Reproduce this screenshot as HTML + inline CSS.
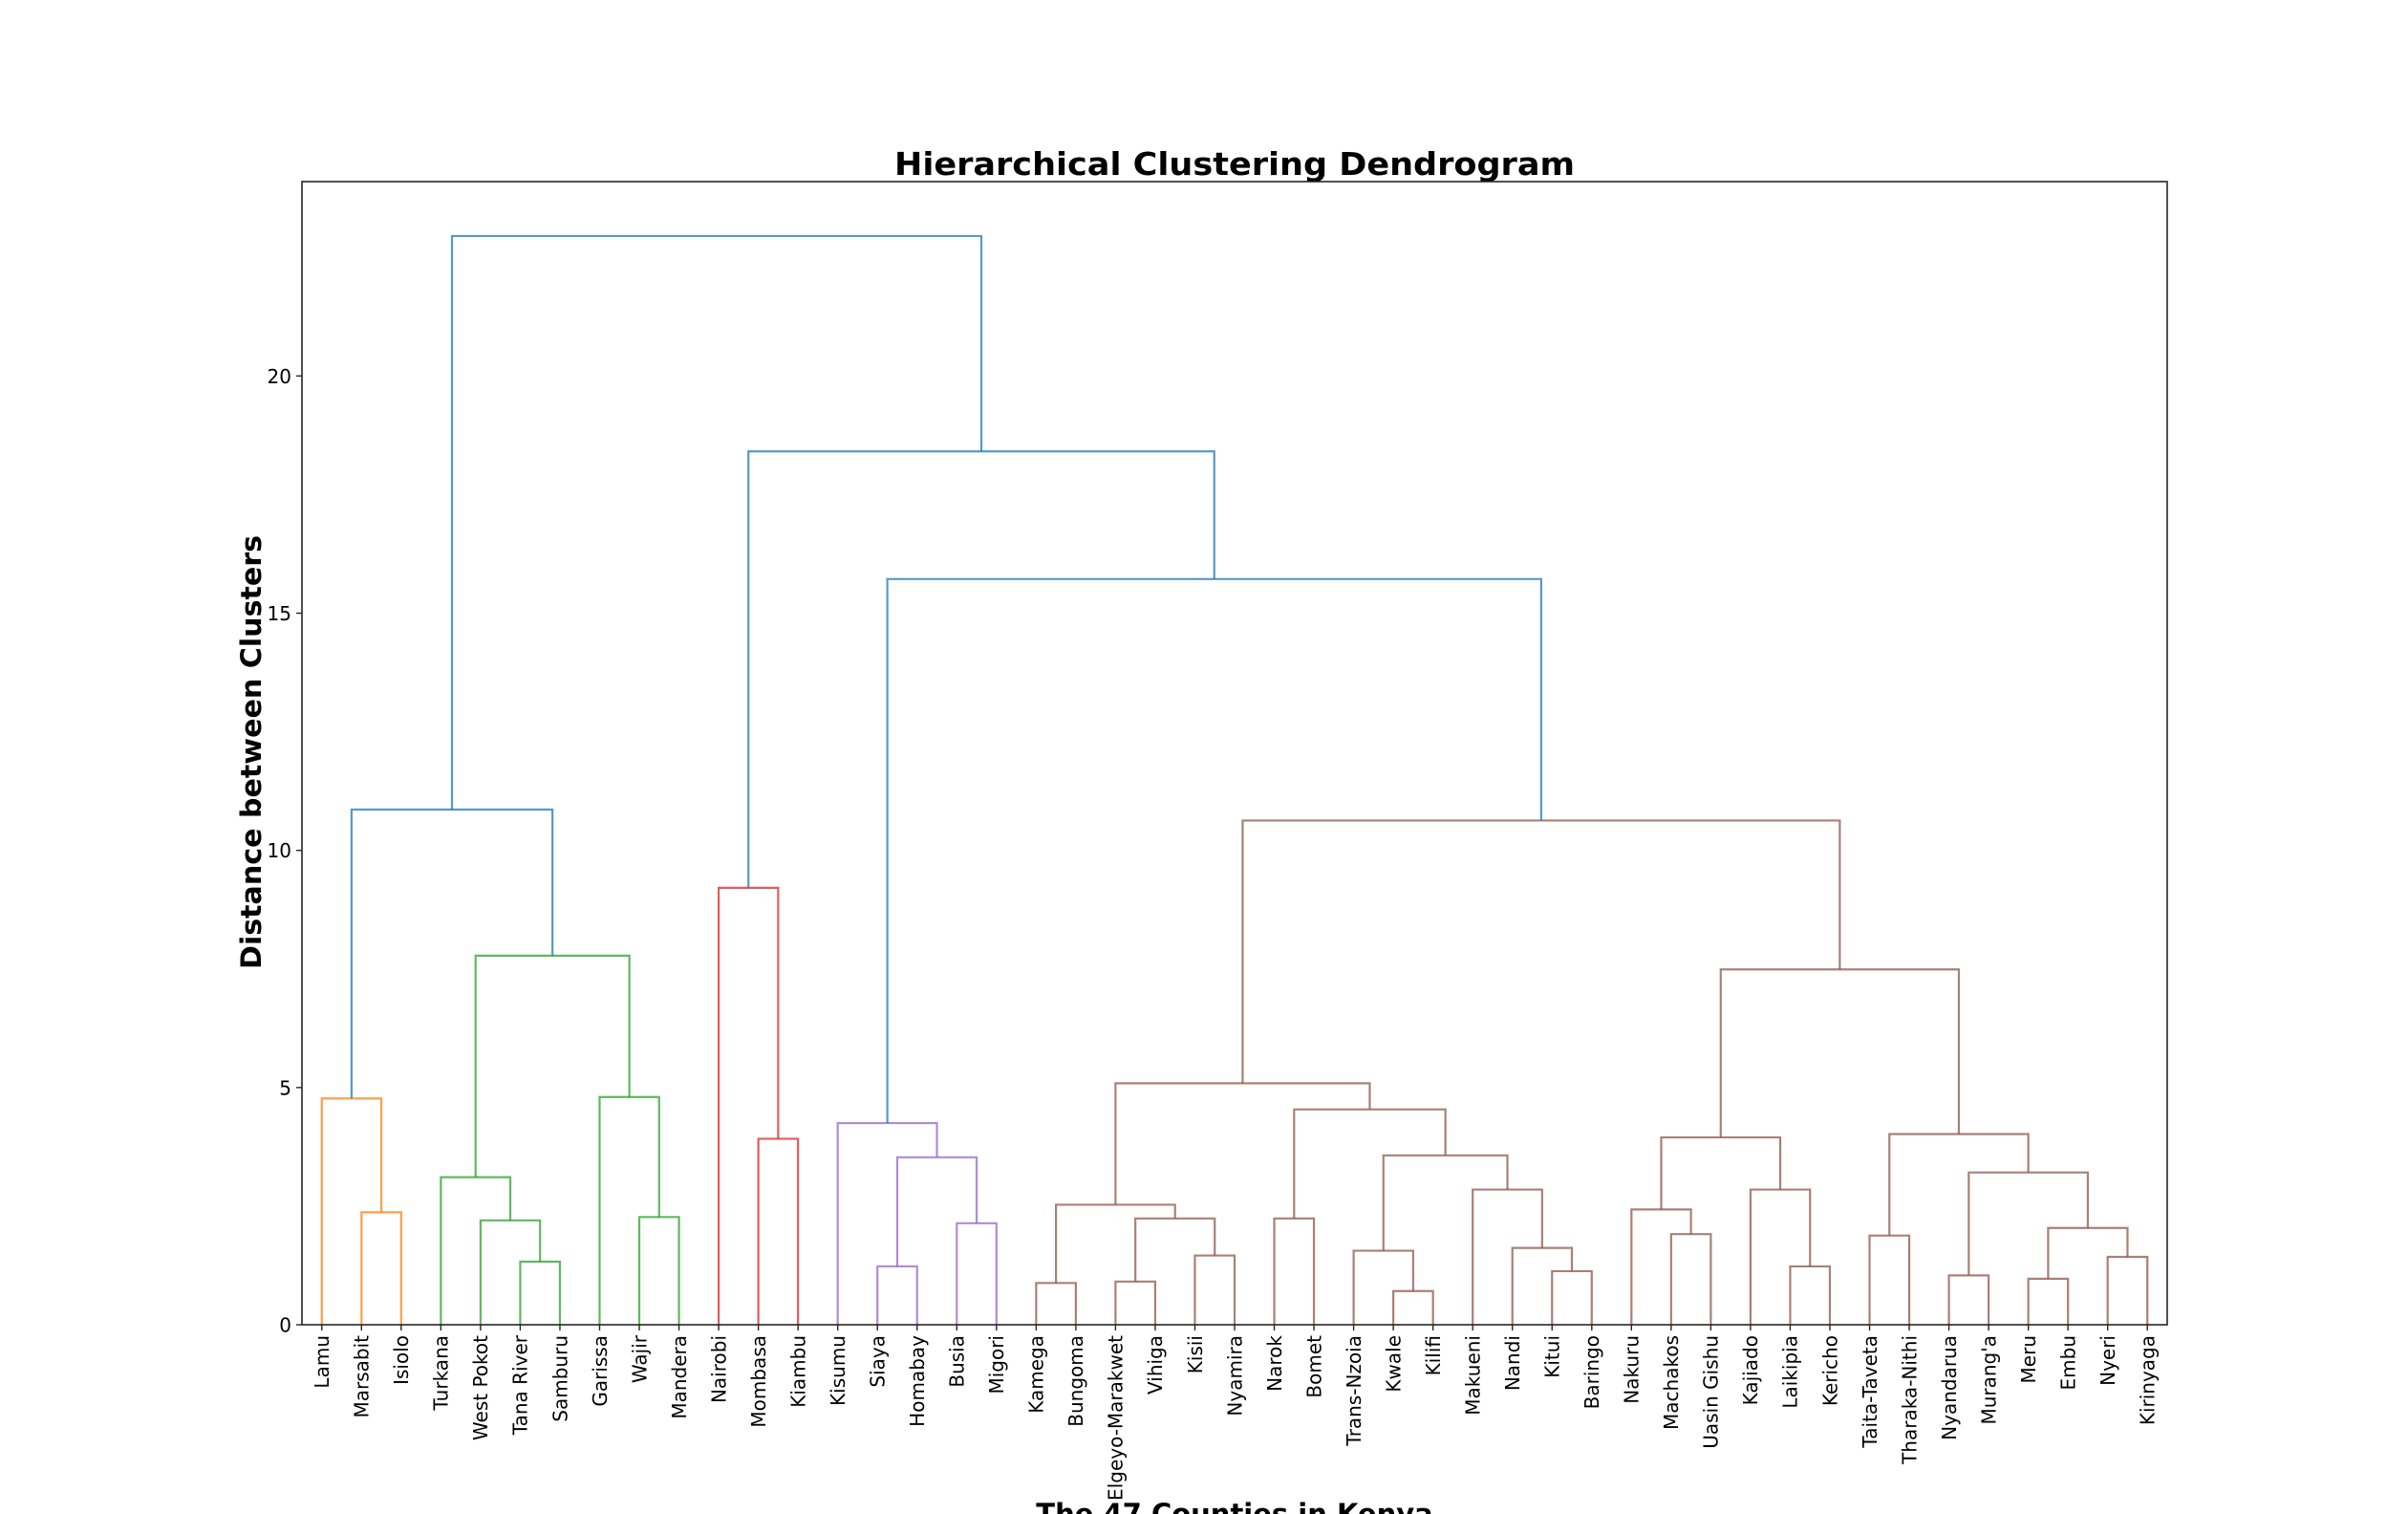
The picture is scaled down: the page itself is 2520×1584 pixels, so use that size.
<!DOCTYPE html>
<html><head><meta charset="utf-8">
<style>
html,body{margin:0;padding:0;background:#fff;}
svg{display:block;font-family:"DejaVu Sans","Liberation Sans",sans-serif;}
</style></head>
<body>
<svg id="chart" width="2520" height="1584" viewBox="0 0 2520 1584" xmlns="http://www.w3.org/2000/svg">
<rect width="2520" height="1584" fill="#fff"/>
<text x="1292" y="183" text-anchor="middle" font-weight="bold" font-size="33" textLength="712" lengthAdjust="spacingAndGlyphs">Hierarchical Clustering Dendrogram</text>
<text transform="translate(273,787) rotate(-90)" text-anchor="middle" font-weight="bold" font-size="29" textLength="454" lengthAdjust="spacingAndGlyphs">Distance between Clusters</text>
<text x="1292" y="1594" text-anchor="middle" font-weight="bold" font-size="29">The 47 Counties in Kenya</text>
<g id="links"></g>
<g id="yticks"></g>
<g id="xticks"></g>
<rect x="316" y="190" width="1952" height="1196" fill="none" stroke="#262626" stroke-width="1.6"/>
</svg>
<script>
const labels = ["Lamu","Marsabit","Isiolo","Turkana","West Pokot","Tana River","Samburu","Garissa","Wajir","Mandera","Nairobi","Mombasa","Kiambu","Kisumu","Siaya","Homabay","Busia","Migori","Kamega","Bungoma","Elgeyo-Marakwet","Vihiga","Kisii","Nyamira","Narok","Bomet","Trans-Nzoia","Kwale","Kilifi","Makueni","Nandi","Kitui","Baringo","Nakuru","Machakos","Uasin Gishu","Kajiado","Laikipia","Kericho","Taita-Taveta","Tharaka-Nithi","Nyandarua","Murang'a","Meru","Embu","Nyeri","Kirinyaga"];
// merges: [left cluster id, right cluster id]; new ids start at 47
const mergePairs = [[27,28],[18,19],[20,21],[43,44],[41,42],[31,32],[14,15],[37,38],[5,6],[45,46],[22,23],[26,47],[30,52],[39,40],[34,35],[50,56],[16,17],[4,55],[49,57],[24,25],[8,9],[1,2],[33,61],[48,65],[29,59],[36,54],[3,64],[51,62],[53,63],[58,71],[11,12],[69,72],[60,74],[13,75],[66,76],[0,68],[7,67],[70,81],[78,79],[73,83],[10,77],[84,85],[82,86],[80,88],[87,90],[89,91]];
const mergeHeights = [0.71,0.88,0.91,0.97,1.04,1.13,1.23,1.23,1.33,1.43,1.46,1.56,1.62,1.88,1.91,2.04,2.14,2.20,2.24,2.24,2.27,2.37,2.43,2.53,2.85,2.85,3.11,3.21,3.53,3.57,3.92,3.95,4.02,4.25,4.54,4.77,4.80,5.09,7.49,7.78,9.21,10.63,10.86,15.72,18.41,22.95];
// cluster roots that get a group colour (below threshold)
const groupRoots = [82,86,87,80,88];
const groupColors = ["#ff7f0e","#2ca02c","#d62728","#9467bd","#8c564b"];
const aboveColor = "#1f77b4";
const yTicks = [0,5,10,15,20];

const NS="http://www.w3.org/2000/svg";
const X0=316,X1=2268,Y0=1386,Y1=190;
const N=labels.length;
const xMax=N*10, yMax=Math.max(...mergeHeights)*1.05;
const xs=v=>X0+(v/xMax)*(X1-X0);
const ys=v=>Y0-(v/yMax)*(Y0-Y1);

const pos=[],hgt=[];
for(let i=0;i<N;i++){pos[i]=5+10*i;hgt[i]=0;}
mergePairs.forEach((p,k)=>{const id=N+k;pos[id]=(pos[p[0]]+pos[p[1]])/2;hgt[id]=mergeHeights[k];});
const color=new Array(N+mergePairs.length).fill(aboveColor);
function paint(id,c){color[id]=c;if(id>=N){const p=mergePairs[id-N];paint(p[0],c);paint(p[1],c);}}
groupRoots.forEach((r,i)=>paint(r,groupColors[i]));

const gl=document.getElementById('links');
mergePairs.forEach((p,k)=>{
  const id=N+k;
  const a=p[0],b=p[1];
  const d=`M${xs(pos[a])},${ys(hgt[a])}V${ys(hgt[id])}H${xs(pos[b])}V${ys(hgt[b])}`;
  const path=document.createElementNS(NS,'path');
  path.setAttribute('d',d);
  path.setAttribute('fill','none');
  path.setAttribute('stroke',color[id]);
  path.setAttribute('stroke-opacity','0.75');
  path.setAttribute('stroke-width','2.2');
  
  
  gl.appendChild(path);
});

const gy=document.getElementById('yticks');
yTicks.forEach(t=>{
  const y=ys(t);
  const ln=document.createElementNS(NS,'line');
  ln.setAttribute('x1',X0-6);ln.setAttribute('x2',X0);ln.setAttribute('y1',y);ln.setAttribute('y2',y);
  ln.setAttribute('stroke','#262626');ln.setAttribute('stroke-width','1.4');
  
  
  gy.appendChild(ln);
  const tx=document.createElementNS(NS,'text');
  tx.setAttribute('x',X0-11);tx.setAttribute('y',y+7.5);
  tx.setAttribute('text-anchor','end');tx.setAttribute('font-size','20');
  tx.textContent=t;
  
  
  gy.appendChild(tx);
});

const gx=document.getElementById('xticks');
labels.forEach((l,i)=>{
  const x=xs(pos[i]);
  const ln=document.createElementNS(NS,'line');
  ln.setAttribute('x1',x);ln.setAttribute('x2',x);ln.setAttribute('y1',Y0);ln.setAttribute('y2',Y0+6);
  ln.setAttribute('stroke','#262626');ln.setAttribute('stroke-width','1.4');
  
  
  gx.appendChild(ln);
  const tx=document.createElementNS(NS,'text');
  tx.setAttribute('transform',`translate(${x+7.3},1397) rotate(-90)`);
  tx.setAttribute('text-anchor','end');tx.setAttribute('font-size','20');
  tx.textContent=l;
  
  
  gx.appendChild(tx);
});
</script>
</body></html>
